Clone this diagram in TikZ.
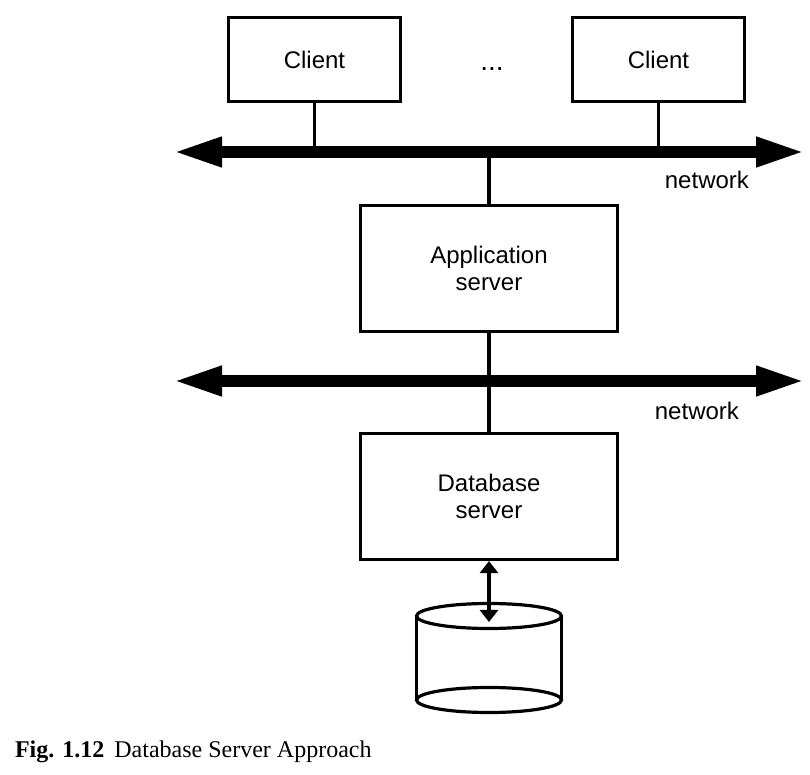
\documentclass[tikz,border=0pt]{standalone}
\usepackage{fontspec}
\setmainfont{Liberation Serif}
\setsansfont{Liberation Sans}
\usepackage{tikz}
\usetikzlibrary{arrows.meta}

\begin{document}
\begin{tikzpicture}[x=0.5pt, y=-0.5pt,
  box/.style={draw, line width=1.6pt, align=center, font=\sffamily\fontsize{12}{13.5}\selectfont},
  lbl/.style={font=\sffamily\fontsize{12}{13.5}\selectfont},
  link/.style={line width=1.6pt},
  bus/.style={line width=6pt, {Triangle[length=25pt,width=13.5pt]}-{Triangle[length=25pt,width=13.5pt]}},
  dbl/.style={line width=1.6pt, {Triangle[length=6pt,width=9pt]}-{Triangle[length=6pt,width=9pt]}},
  drum/.style={line width=1.6pt}]
\useasboundingbox (0,0) rectangle (810,775);

\node[box, minimum width=86pt, minimum height=42pt] (clientA) at (314.5,59.5) {Client};
\node[box, minimum width=86pt, minimum height=42pt] (clientB) at (658.5,59.5) {Client};
\node[lbl, font=\sffamily\fontsize{14}{14}\selectfont] (dots) at (492,69) {...};
\node[box, minimum width=128.5pt, minimum height=63pt] (app) at (489,268.5) {Application\\server};
\node[box, minimum width=128.5pt, minimum height=63pt] (db) at (489,496.5) {Database\\server};

\coordinate (netAL) at (172,152);
\coordinate (netAR) at (806,152);
\coordinate (netBL) at (172,381);
\coordinate (netBR) at (806,381);

\draw[link] (clientA.south) -- (clientA.south |- netAL);
\draw[link] (clientB.south) -- (clientB.south |- netAL);
\draw[link] (app.north) -- (app.north |- netAL);
\draw[link] (app.south) -- (db.north);

\draw[bus] (netAL) -- (netAR);
\draw[bus] (netBL) -- (netBR);

\node[lbl, anchor=east] (netA) at (756,180) {network};
\node[lbl, anchor=east] (netB) at (746,411) {network};

% disk
\coordinate (store) at (489,616);
\coordinate (storeIn) at (489,622);
\draw[drum] (store) ellipse [x radius=72.5, y radius=12.5];
\draw[drum] (489,700) ellipse [x radius=72.5, y radius=12.5];
\draw[drum] (416.5,616) -- (416.5,700);
\draw[drum] (561.5,616) -- (561.5,700);
\draw[dbl] (db.south) -- (storeIn);

\node[anchor=base west, font=\fontsize{12}{14}\selectfont] (caption) at (8,757)
  {\textbf{Fig. 1.12}\hspace{5pt}Database Server Approach};
\end{tikzpicture}
\end{document}
